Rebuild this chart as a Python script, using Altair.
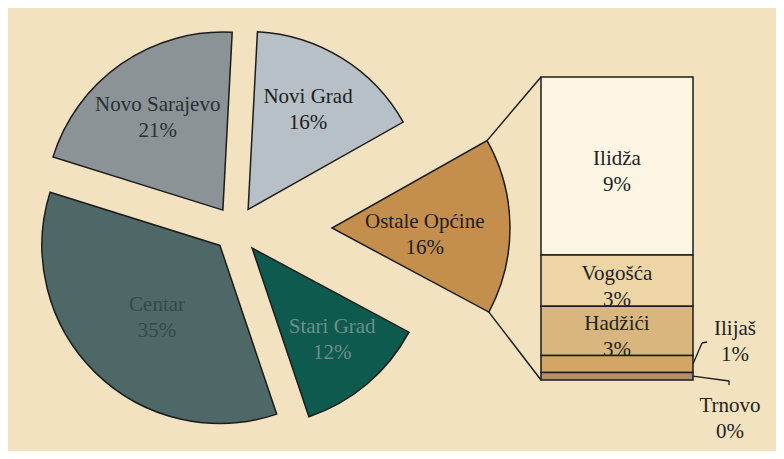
import math
import numpy as np
import pandas as pd
import altair as alt

# ---------------- data ----------------
pie_labels = ["Novi Grad", "Ostale Općine", "Stari Grad", "Centar", "Novo Sarajevo"]
pie_values = [16, 16, 12, 35, 21]

bar_labels = ["Ilidža", "Vogošća", "Hadžići", "Ilijaš", "Trnovo"]
bar_values = [9.4, 2.7, 2.6, 0.9, 0.4]

# ---------------- style ----------------
W, H = 768, 443
BG = "#F2E2C0"
STROKE = "#1c1c1c"
FONT = "Liberation Serif"
FS = 21
LH = 26
pie_fill = ["#B7C0C6", "#C48E4D", "#0F5A4F", "#4E6868", "#8C9396"]
pie_text = ["#1e1e1e", "#1e1e1e", "#6a9088", "#364848", "#2a2f33"]
bar_fill = ["#FDF5E3", "#EDD5A5", "#D9B67D", "#D5A568", "#B09070"]

CX, CY = 228, 221          # pie centre (chart px)
R = 178                    # pie radius
ROT = 3.0                  # rotation of first slice (deg)
explode = [23, 96, 25, 23, 23]
label_r = [116, 93, 122, 96, 113]
label_da = [-0.7, 4.9, -0.8, -3.5, -0.4]

BAR_X0, BAR_X1 = 533, 685
BAR_TOP, BAR_BOT = 69, 372

# ---------------- pie table ----------------
vals = np.array(pie_values, dtype=float)
cum = np.concatenate([[0], np.cumsum(vals)])
start, end = cum[:-1], cum[1:]
mid = np.radians((start + end) / 2 * 3.6 + ROT)
lmid = mid + np.radians(np.array(label_da))
ex = np.array(explode, dtype=float)
ax_ = CX + ex * np.sin(mid)
ay_ = CY - ex * np.cos(mid)
lr = np.array(label_r, dtype=float)
pie_df = pd.DataFrame({
    "label": pie_labels,
    "value": vals,
    "start": start,
    "end": end,
    "ax": ax_,
    "ay": ay_,
    "lx": ax_ + lr * np.sin(lmid),
    "ly": ay_ - lr * np.cos(lmid),
    "fill": pie_fill,
    "tcolor": pie_text,
})
pie_df["text"] = [f"{l}\n{int(v)}%" for l, v in zip(pie_labels, pie_values)]

# connectors from the "Ostale Općine" slice to the bar
oi = pie_labels.index("Ostale Općine")
a0 = math.radians(start[oi] * 3.6 + ROT)
a1 = math.radians(end[oi] * 3.6 + ROT)
conn_df = pd.DataFrame({
    "x": [ax_[oi] + R * math.sin(a0), ax_[oi] + R * math.sin(a1)],
    "y": [ay_[oi] - R * math.cos(a0), ay_[oi] - R * math.cos(a1)],
    "x2": [BAR_X0, BAR_X0],
    "y2": [BAR_TOP, BAR_BOT],
})

# ---------------- bar table ----------------
bv = np.array(bar_values, dtype=float)
total = bv.sum()
b1 = total - np.concatenate([[0], np.cumsum(bv)])[:-1]
b0 = b1 - bv
bar_df = pd.DataFrame({
    "label": bar_labels,
    "value": bv,
    "b0": b0,
    "b1": b1,
    "mid": (b0 + b1) / 2,
    "fill": bar_fill,
})
bar_df["text"] = [f"{l}\n{round(v)}%" for l, v in zip(bar_labels, bar_values)]

xs = alt.Scale(domain=[0, W], nice=False, zero=False)
ys = alt.Scale(domain=[0, H], nice=False, zero=False, reverse=True)
bys = alt.Scale(domain=[0, total], range=[BAR_BOT, BAR_TOP], nice=False, zero=True)

arcs = alt.Chart(pie_df).mark_arc(outerRadius=R, stroke=STROKE, strokeWidth=1.5).encode(
    x=alt.X("ax:Q", scale=xs, axis=None),
    y=alt.Y("ay:Q", scale=ys, axis=None),
    theta=alt.Theta("start:Q", scale=alt.Scale(domain=[0, 100],
                    range=[math.radians(ROT), math.radians(ROT) + 2 * math.pi]), stack=None),
    theta2="end:Q",
    fill=alt.Fill("fill:N", scale=None),
)

pie_txt = alt.Chart(pie_df).mark_text(font=FONT, fontSize=FS, lineBreak="\n",
                                      lineHeight=LH, baseline="middle", align="center",
                                      dy=-LH / 2).encode(
    x=alt.X("lx:Q", scale=xs, axis=None),
    y=alt.Y("ly:Q", scale=ys, axis=None),
    text="text:N",
    color=alt.Color("tcolor:N", scale=None),
)

conns = alt.Chart(conn_df).mark_rule(color=STROKE, strokeWidth=1.5).encode(
    x=alt.X("x:Q", scale=xs, axis=None),
    y=alt.Y("y:Q", scale=ys, axis=None),
    x2="x2:Q",
    y2="y2:Q",
)

bars = alt.Chart(bar_df).mark_bar(stroke=STROKE, strokeWidth=1.5).encode(
    x=alt.value(BAR_X0),
    x2=alt.value(BAR_X1),
    y=alt.Y("b0:Q", scale=bys, axis=None),
    y2="b1:Q",
    fill=alt.Fill("fill:N", scale=None),
)

inside = ["Ilidža", "Vogošća", "Hadžići"]
bar_txt_in = alt.Chart(bar_df).transform_filter(
    alt.FieldOneOfPredicate(field="label", oneOf=inside)
).mark_text(font=FONT, fontSize=FS, lineBreak="\n", lineHeight=LH,
            baseline="middle", align="center", color="#222222", dy=-7).encode(
    x=alt.value((BAR_X0 + BAR_X1) / 2),
    y=alt.Y("mid:Q", scale=bys, axis=None),
    text="text:N",
)

bar_txt_ilijas = alt.Chart(bar_df).transform_filter(
    alt.datum.label == "Ilijaš"
).mark_text(font=FONT, fontSize=FS, lineBreak="\n", lineHeight=LH,
            baseline="middle", align="center", color="#222222", dy=-35).encode(
    x=alt.value(727),
    y=alt.Y("mid:Q", scale=bys, axis=None),
    text="text:N",
)

bar_txt_trnovo = alt.Chart(bar_df).transform_filter(
    alt.datum.label == "Trnovo"
).mark_text(font=FONT, fontSize=FS, lineBreak="\n", lineHeight=LH,
            baseline="middle", align="center", color="#222222", dy=30).encode(
    x=alt.value(722),
    y=alt.Y("mid:Q", scale=bys, axis=None),
    text="text:N",
)

# leader lines for the two thin segments
lead1 = alt.Chart(bar_df).transform_filter(alt.datum.label == "Ilijaš").mark_rule(
    color=STROKE, strokeWidth=1.3).encode(
    x=alt.value(BAR_X1), x2=alt.value(694),
    y=alt.Y("mid:Q", scale=bys, axis=None), y2=alt.value(335))
lead1b = alt.Chart(bar_df).transform_filter(alt.datum.label == "Ilijaš").mark_rule(
    color=STROKE, strokeWidth=1.3).encode(
    x=alt.value(694), x2=alt.value(699), y=alt.value(335), y2=alt.value(334))
lead2 = alt.Chart(bar_df).transform_filter(alt.datum.label == "Trnovo").mark_rule(
    color=STROKE, strokeWidth=1.3).encode(
    x=alt.value(BAR_X1), x2=alt.value(721),
    y=alt.Y("mid:Q", scale=bys, axis=None), y2=alt.value(373))
lead2b = alt.Chart(bar_df).transform_filter(alt.datum.label == "Trnovo").mark_rule(
    color=STROKE, strokeWidth=1.3).encode(
    x=alt.value(721), y=alt.value(373), y2=alt.value(377))

chart = alt.layer(
    conns, arcs, pie_txt, bars, bar_txt_in, bar_txt_ilijas, bar_txt_trnovo,
    lead1, lead1b, lead2, lead2b
).resolve_scale(y="independent", x="independent").properties(
    width=W, height=H, background=BG, padding=0,
    autosize=alt.AutoSizeParams(type="none"),
).configure_view(stroke=None)

chart.save("out.html", embed_options={"renderer": "svg", "actions": False})
